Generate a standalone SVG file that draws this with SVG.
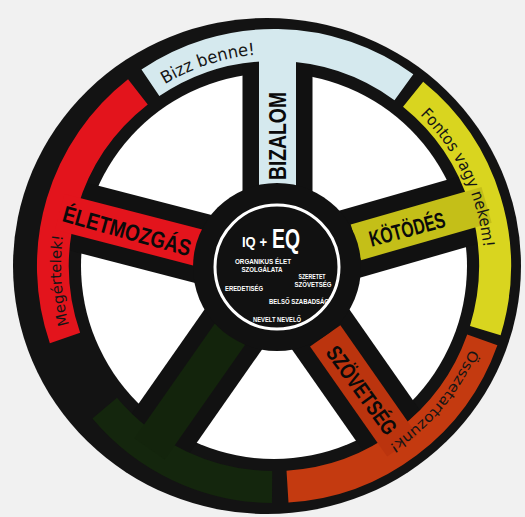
<svg xmlns="http://www.w3.org/2000/svg" width="525" height="517" viewBox="0 0 525 517">
<style>
.blk{fill:none;stroke:#111;stroke-width:70;stroke-linecap:butt}
.band{fill:none;stroke-width:32;stroke-linecap:butt}
.strip{fill:none;stroke-width:37;stroke-linecap:butt}
.lbl{font-family:"Liberation Sans",Arial,sans-serif;font-weight:bold;fill:#0a0a0a;text-anchor:middle}
.hand{font-family:"DejaVu Sans",sans-serif;fill:#151515}
.hub{font-family:"Liberation Sans",Arial,sans-serif;font-weight:bold;fill:#fff;text-anchor:middle}
</style>
<defs>
<path id="pBizz" d="M164.8,84.3 A212,212 0 0 1 255.5,54.8"/>
<path id="pFontos" d="M419.9,114.9 A210,210 0 0 1 483.4,249.5"/>
<path id="pMeg" d="M69.2,324.7 A213,213 0 0 1 63.3,234.5"/>
<path id="pOssz" d="M470.1,349.2 A213,213 0 0 1 386.9,446.6"/>
</defs>
<rect width="525" height="517" fill="#f1f1f1"/>
<g id="rim">
<ellipse cx="267" cy="266" rx="254" ry="248" fill="#131313"/>
<circle cx="274" cy="266" r="193" fill="#fff"/>
</g>
<g id="connectors">
<path class="blk" d="M277.5,267 L277.5,40"/>
<path class="blk" d="M277,265 L486.6,204.9"/>
<path class="blk" d="M277,267 L402.3,446"/>
<path class="blk" d="M277,267 L149.7,448.9"/>
<path class="blk" d="M277,268 L59.7,211.8"/>
</g>
<g id="bizalom">
<path class="band" stroke="#d5e9ee" d="M150.4,82.8 A221,221 0 0 1 403.9,87.2"/>
<path class="strip" stroke="#d5e9ee" d="M277.5,188 L277.5,45"/>
<text class="lbl" font-size="23" textLength="88" lengthAdjust="spacingAndGlyphs" transform="translate(277.5,136) rotate(-90)" x="0" y="8">BIZALOM</text>
<text class="hand" font-size="17"><textPath href="#pBizz" textLength="96" lengthAdjust="spacingAndGlyphs">Bizz benne!</textPath></text>
</g>
<g id="kotodes">
<path class="band" stroke="#d9d51f" d="M413.1,94.3 A221,221 0 0 1 485.3,330.6"/>
<path class="strip" stroke="#c4bf18" d="M355.8,242.4 L486.6,204.9"/>
<text class="lbl" font-size="22" textLength="78" lengthAdjust="spacingAndGlyphs" transform="translate(407,229) rotate(-15)" x="0" y="8">KÖTÖDÉS</text>
<text class="hand" font-size="16"><textPath href="#pFontos" textLength="150" lengthAdjust="spacingAndGlyphs">Fontos vagy nekem!</textPath></text>
</g>
<g id="szovetseg">
<path class="band" stroke="#c43a10" d="M482.3,339.8 A221,221 0 0 1 287.5,486.6"/>
<path class="strip" stroke="#bb340e" d="M325.2,335.8 L402.3,446"/>
<text class="lbl" font-size="22" textLength="104" lengthAdjust="spacingAndGlyphs" transform="translate(362,390) rotate(54)" x="0" y="8">SZÖVETSÉG</text>
<text class="hand" font-size="14"><textPath href="#pOssz" textLength="128" lengthAdjust="spacingAndGlyphs">Összetartozunk!</textPath></text>
</g>
<g id="green">
<path class="band" stroke="#14260d" d="M272.1,487 A221,221 0 0 1 104.7,408.1"/>
<path class="strip" stroke="#13240c" d="M230,334.2 L149.7,448.9"/>
</g>
<g id="eletmozgas">
<path class="band" stroke="#e3141c" d="M65,338 A221,221 0 0 1 137.9,91.9"/>
<path class="strip" stroke="#e3141c" d="M199.6,248 L59.7,211.8"/>
<text class="lbl" font-size="23" textLength="132" lengthAdjust="spacingAndGlyphs" transform="translate(127,231) rotate(15.5)" x="0" y="8">ÉLETMOZGÁS</text>
<text class="hand" font-size="15"><textPath href="#pMeg" textLength="90" lengthAdjust="spacingAndGlyphs">Megértelek!</textPath></text>
</g>
<g id="hub">
<circle cx="277" cy="267" r="84" fill="#111"/>
<circle cx="277" cy="267" r="62" fill="none" stroke="#fff" stroke-width="3"/>
<text class="hub" x="254.5" y="247" font-size="14" textLength="25" lengthAdjust="spacingAndGlyphs">IQ +</text>
<text class="hub" x="286" y="248" font-size="28" textLength="28" lengthAdjust="spacingAndGlyphs">EQ</text>
<text class="hub" x="263" y="264" font-size="7" textLength="56" lengthAdjust="spacingAndGlyphs">ORGANIKUS ÉLET</text>
<text class="hub" x="262" y="272" font-size="7" textLength="41" lengthAdjust="spacingAndGlyphs">SZOLGÁLATA</text>
<text class="hub" x="312" y="279" font-size="7" textLength="27" lengthAdjust="spacingAndGlyphs">SZERETET</text>
<text class="hub" x="313" y="287" font-size="7" textLength="37" lengthAdjust="spacingAndGlyphs">SZÖVETSÉG</text>
<text class="hub" x="244" y="291" font-size="7" textLength="38" lengthAdjust="spacingAndGlyphs">EREDETISÉG</text>
<text class="hub" x="299" y="304" font-size="7" textLength="60" lengthAdjust="spacingAndGlyphs">BELSŐ SZABADSÁG</text>
<text class="hub" x="277" y="322" font-size="7" textLength="48" lengthAdjust="spacingAndGlyphs">NEVELT NEVELŐ</text>
</g>
</svg>
